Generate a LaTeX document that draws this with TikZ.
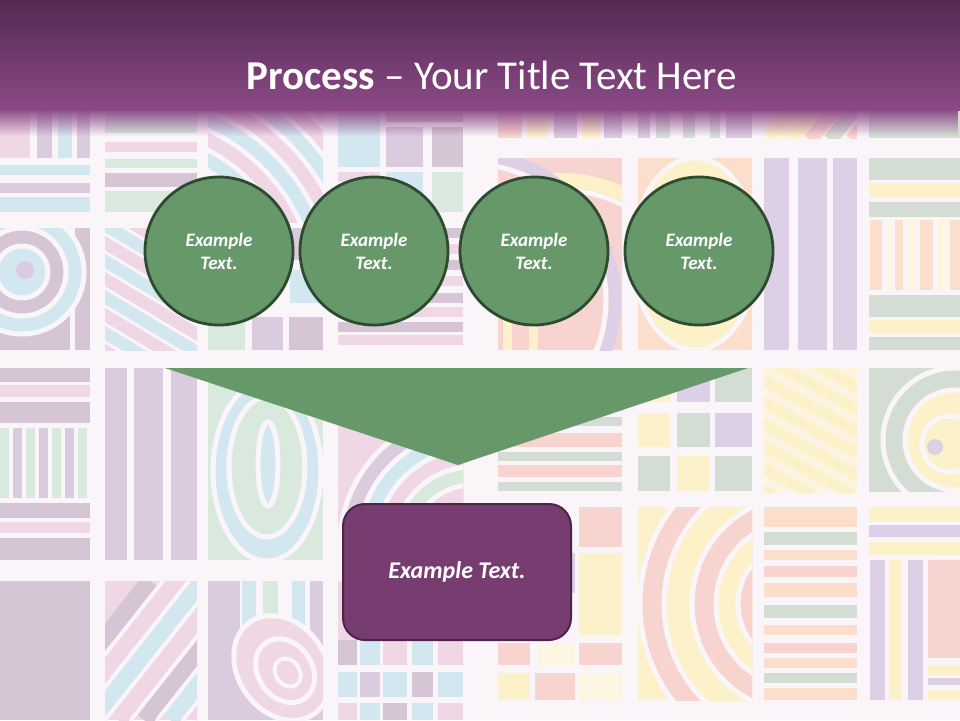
\documentclass[tikz,border=0pt]{standalone}
\usepackage{fontspec}
\setmainfont{Carlito}
\usetikzlibrary{fadings}
\definecolor{bgc}{HTML}{F9F5F9}
\definecolor{pk}{HTML}{F0D7E5}
\definecolor{bl}{HTML}{D3E7F0}
\definecolor{mv}{HTML}{DACBDF}
\definecolor{gm}{HTML}{D6C5D5}
\definecolor{gr}{HTML}{D9E9DE}
\definecolor{yl}{HTML}{FCF1C8}
\definecolor{pc}{HTML}{FBDECB}
\definecolor{sl}{HTML}{F7D4CF}
\definecolor{gg}{HTML}{D4DDD4}
\definecolor{lv}{HTML}{DCCFE6}
\definecolor{cr}{HTML}{FCF5E2}
\definecolor{hdrtop}{HTML}{542950}
\definecolor{hdrbot}{HTML}{8B4A87}
\definecolor{gfill}{HTML}{66986A}
\definecolor{gline}{HTML}{2D4B30}
\definecolor{pfill}{HTML}{773D70}
\definecolor{pline}{HTML}{4E2548}
\newcommand\tl[5]{\fill[#1] (#2,#3) rectangle (#4,#5);}
\begin{document}
\begin{tikzpicture}[x=1pt,y=-1pt,
  stepcircle/.style={circle,draw=gline,fill=gfill,line width=2.8pt,minimum size=148pt,inner sep=0pt,
    text=white,align=center,font=\fontsize{19}{23}\selectfont\bfseries\itshape},
  resultbox/.style={rectangle,rounded corners=22pt,draw=pline,fill=pfill,line width=2pt,
    minimum width=228pt,minimum height=136pt,text=white,font=\fontsize{24}{28}\selectfont\bfseries\itshape},
  ring/.style={draw=bgc,line width=5pt}]
\useasboundingbox (0,0) rectangle (960,720);
\fill[bgc] (0,0) rectangle (960,720);
% ===== upper-left tiles =====
\tl{pk}{0}{110}{30}{158}\tl{mv}{37}{110}{52}{158}\tl{bl}{58}{110}{72}{158}\tl{mv}{77}{110}{90}{158}
\tl{bl}{0}{165}{90}{175}\tl{mv}{0}{183}{90}{193}\tl{bl}{0}{197}{90}{212}
\tl{gr}{105}{112}{197}{133}\tl{pk}{105}{142}{197}{152}\tl{gr}{105}{159}{197}{168}
\tl{gm}{105}{173}{197}{187}\tl{gr}{105}{191}{197}{212}
\begin{scope}
\clip (208,110) rectangle (323,222);
\foreach \r/\c in {268/bl,250/pk,232/bl,214/pk,196/bl,178/pk,160/bl}
  {\draw[\c,line width=13pt] (130,300) circle[radius=\r];}
\end{scope}
\tl{mv}{292}{228}{320}{260}\tl{bl}{290}{270}{320}{303}
\tl{gr}{208}{317}{245}{350}\tl{mv}{252}{317}{283}{350}\tl{gm}{289}{317}{323}{350}
\tl{bl}{338}{113}{380}{167}\tl{gm}{386}{113}{463}{122}\tl{mv}{386}{127}{423}{167}\tl{gm}{432}{127}{463}{167}
\tl{pk}{338}{172}{380}{182}\tl{bl}{386}{172}{423}{212}\tl{gr}{432}{172}{463}{212}
\foreach \y/\c in {228/gm,244/pk,260/gm,276/pk,293/gm,307/pk,322/gm,335/pk}
  {\tl{\c}{338}{\y}{463}{\y+10}}
% "9" tile
\begin{scope}
\clip (0,228) rectangle (90,350);
\fill[gm] (0,228) rectangle (90,350);
\draw[ring] (72,228) -- (72,350);
\fill[bl] (22,272) circle[radius=62];\draw[ring] (22,272) circle[radius=62];
\fill[gm] (22,272) circle[radius=44];\draw[ring] (22,272) circle[radius=44];
\fill[bl] (22,272) circle[radius=26];\draw[ring] (22,272) circle[radius=26];
\fill[mv] (25,270) circle[radius=9];
\end{scope}
\begin{scope}
\clip (105,228) rectangle (197,350);
\fill[pk] (105,228) rectangle (197,350);
\foreach \o/\c in {-150/bl,-132/pk,-114/bl,-96/pk,-78/bl,-60/pk,-42/bl,-24/pk,-6/bl,12/pk,30/bl,48/pk,66/bl,84/pk,102/bl,120/pk}
  {\draw[\c,line width=12pt] (100,{228+\o}) -- (210,{294+\o});}
\foreach \o in {-141,-123,...,129}
  {\draw[bgc,line width=3pt] (100,{228+\o}) -- (210,{294+\o});}
\end{scope}
% ===== upper-right tiles =====
\tl{sl}{498}{110}{522}{138}\tl{yl}{527}{110}{548}{138}\tl{mv}{554}{110}{577}{138}\tl{yl}{582}{110}{600}{138}\tl{mv}{604}{110}{622}{138}
\tl{mv}{638}{110}{650}{138}\tl{gg}{656}{110}{670}{138}\tl{gg}{683}{110}{695}{138}\tl{gg}{710}{110}{720}{138}\tl{mv}{726}{110}{752}{138}
\begin{scope}
\clip (764,110) rectangle (857,138);
\fill[cr] (764,110) rectangle (857,138);
\foreach \x/\c in {770/yl,790/yl,810/sl,830/gg,852/sl}
  {\draw[\c,line width=14pt] (\x,140) -- ({\x+26},108);}
\end{scope}
\tl{gg}{869}{110}{960}{138}
\begin{scope}
\clip (498,158) rectangle (622,350);
\fill[sl] (498,158) rectangle (622,350);
\draw[yl,line width=14pt] (560,330) circle[radius=150];
\draw[ring] (560,330) circle[radius=140];
\draw[lv,line width=12pt] (470,300) circle[radius=145];
\draw[ring] (470,300) circle[radius=136];
\tl{yl}{503}{315}{512}{350}\tl{sl}{516}{315}{525}{350}\tl{yl}{529}{315}{538}{350}
\end{scope}
\begin{scope}
\clip (638,158) rectangle (752,350);
\fill[pc] (638,158) rectangle (752,350);
\fill[yl] (695,254) ellipse[x radius=62,y radius=96];
\draw[ring] (695,254) ellipse[x radius=62,y radius=96];
\end{scope}
\tl{lv}{764}{158}{789}{350}\tl{lv}{798}{158}{827}{350}\tl{lv}{833}{158}{857}{350}
\tl{gg}{869}{158}{960}{180}\tl{yl}{869}{183}{960}{198}\tl{gg}{869}{202}{960}{217}
\foreach \a/\b/\c in {870/882/pc,885/892/cr,895/903/pc,908/915/cr,920/933/pc,938/947/cr,950/960/pc}
  {\tl{\c}{\a}{220}{\b}{290}}
\tl{gg}{869}{295}{960}{317}\tl{yl}{869}{320}{960}{333}\tl{gg}{869}{337}{960}{350}
% ===== lower-left tiles =====
\tl{gm}{0}{368}{90}{382}\tl{pk}{0}{385}{90}{397}\tl{gm}{0}{402}{90}{423}
\foreach \x/\c in {0/gr,13/mv,26/gr,39/mv,52/gr,65/mv,78/gr}
  {\tl{\c}{\x}{428}{\x+9}{498}}
\tl{gm}{0}{503}{90}{518}\tl{pk}{0}{522}{90}{533}\tl{gm}{0}{538}{90}{560}
\tl{mv}{105}{368}{127}{560}\tl{mv}{134}{368}{163}{560}\tl{mv}{171}{368}{197}{560}
\begin{scope}
\clip (208,368) rectangle (323,560);
\fill[gr] (208,368) rectangle (323,560);
\fill[bl] (267,471) ellipse[x radius=54,y radius=90];
\draw[ring] (267,471) ellipse[x radius=54,y radius=90];
\fill[gr] (267,467) ellipse[x radius=38,y radius=70];
\draw[ring] (267,467) ellipse[x radius=38,y radius=70];
\fill[bl] (268,464) ellipse[x radius=10,y radius=42];
\draw[ring] (268,464) ellipse[x radius=10,y radius=42];
\end{scope}
\begin{scope}
\clip (338,368) rectangle (463,560);
\fill[pk] (338,368) rectangle (463,560);
\foreach \r/\c in {132/mv,114/bl,96/pk,78/gr,60/pk}{
  \fill[\c] (472,545) circle[radius=\r];
  \draw[ring] (472,545) circle[radius=\r];}
\end{scope}
\tl{gm}{0}{581}{90}{720}
\begin{scope}
\clip (105,581) rectangle (197,720);
\fill[pk] (105,581) rectangle (197,720);
\foreach \o/\c in {0/gm,26/pk,52/bl,78/pk,104/gm,130/bl,156/pk,182/bl,208/pk}
  {\draw[\c,line width=18pt] ({40+\o},720) -- ({150+\o},581);}
\foreach \o in {13,39,...,221}
  {\draw[bgc,line width=4pt] ({40+\o},720) -- ({150+\o},581);}
\end{scope}
\begin{scope}
\clip (208,581) rectangle (323,720);
\fill[mv] (208,581) rectangle (323,720);
\tl{bgc}{240}{581}{323}{650}
\tl{bl}{242}{581}{256}{650}\tl{gr}{263}{581}{278}{650}\tl{bl}{292}{581}{305}{650}\tl{mv}{310}{581}{323}{650}
\fill[pk,rotate around={35:(282,668)}] (282,668) ellipse[x radius=44,y radius=56];
\draw[ring,rotate around={35:(282,668)}] (282,668) ellipse[x radius=44,y radius=56];
\draw[ring,rotate around={35:(282,668)}] (283,672) ellipse[x radius=27,y radius=34];
\draw[bgc,line width=4pt,rotate around={35:(282,668)}] (284,675) ellipse[x radius=12,y radius=15];
\end{scope}
\tl{pk}{338}{581}{463}{640}
\tl{gm}{338}{640}{357}{665}\tl{bl}{360}{640}{380}{665}\tl{pk}{383}{640}{407}{665}\tl{bl}{412}{640}{433}{665}\tl{pk}{438}{640}{463}{665}
\tl{bl}{338}{672}{357}{697}\tl{mv}{360}{672}{380}{697}\tl{bl}{383}{672}{407}{697}\tl{gm}{412}{672}{433}{697}\tl{bl}{438}{672}{463}{697}
\tl{pk}{338}{703}{357}{720}\tl{bl}{360}{703}{380}{720}\tl{gm}{383}{703}{407}{720}\tl{bl}{412}{703}{433}{720}\tl{pk}{438}{703}{463}{720}
% ===== lower-right tiles =====
\foreach \y/\c in {368/gg,385/sl,402/gg,417/gg,452/gg,482/gg}
  {\tl{\c}{498}{\y}{622}{\y+9}}
\tl{sl}{498}{433}{622}{447}\tl{sl}{498}{465}{622}{477}
\tl{yl}{638}{368}{670}{402}\tl{lv}{677}{368}{710}{402}\tl{gg}{715}{368}{752}{402}
\tl{yl}{638}{413}{670}{447}\tl{gg}{677}{413}{710}{447}\tl{lv}{715}{413}{752}{447}
\tl{gg}{638}{456}{670}{491}\tl{yl}{677}{456}{710}{491}\tl{gg}{715}{456}{752}{491}
\begin{scope}
\clip (764,368) rectangle (857,492);
\fill[cr] (764,368) rectangle (857,492);
\foreach \o in {-100,-78,...,120}
  {\draw[yl,line width=11pt] (760,{368+\o}) -- (860,{423+\o});}
\end{scope}
\begin{scope}
\clip (869,368) rectangle (960,492);
\fill[gg] (869,368) rectangle (960,492);
\draw[ring] (955,440) circle[radius=72];
\fill[yl] (955,440) circle[radius=50];\draw[ring] (955,440) circle[radius=50];
\fill[yl] (950,444) circle[radius=28];\draw[ring] (950,444) circle[radius=28];
\fill[lv] (935,447) circle[radius=8];
\end{scope}
\tl{sl}{579}{507}{622}{547}\tl{yl}{579}{553}{622}{635}\tl{lv}{568}{553}{575}{593}
\tl{sl}{498}{643}{530}{665}\tl{cr}{537}{643}{575}{665}\tl{sl}{579}{643}{622}{665}
\tl{yl}{498}{673}{530}{700}\tl{sl}{535}{673}{575}{700}\tl{cr}{579}{673}{622}{700}
\begin{scope}
\clip (638,507) rectangle (752,700);
\fill[yl] (638,507) rectangle (752,700);
\foreach \r/\c in {160/sl,136/yl,108/sl,84/yl,62/sl,40/yl}{
  \fill[\c] (800,604) circle[radius=\r];
  \draw[ring] (800,604) circle[radius=\r];}
\end{scope}
\foreach \a/\b/\c in {507/527/pc,532/545/gg,550/560/pc,566/577/sl,583/597/pc,605/618/gg,625/635/pc,643/653/sl,658/668/pc,673/683/gg,688/700/pc}
  {\tl{\c}{764}{\a}{857}{\b}}
\tl{yl}{869}{507}{960}{522}\tl{lv}{869}{525}{960}{537}\tl{yl}{869}{542}{960}{555}
\tl{lv}{870}{560}{885}{700}\tl{yl}{889}{560}{902}{700}\tl{lv}{908}{560}{923}{700}
\tl{sl}{928}{560}{960}{658}\tl{yl}{928}{665}{960}{675}\tl{lv}{928}{678}{960}{685}\tl{yl}{928}{690}{960}{700}
% ===== header =====
\shade[top color=hdrtop,bottom color=hdrbot] (0,0) rectangle (960,110);
\fill[hdrbot,path fading=south] (0,109) rectangle (960,136);
\node[text=white,font=\fontsize{41}{48}\selectfont] (title) at (492,75) {\textbf{Process} – Your Title Text Here};
% ===== diagram =====
\fill[gfill] (165,368) -- (748,368) -- (458,465) -- cycle;
\node[stepcircle] (c1) at (219,251) {Example\\Text.};
\node[stepcircle] (c2) at (374,251) {Example\\Text.};
\node[stepcircle] (c3) at (534,251) {Example\\Text.};
\node[stepcircle] (c4) at (699,251) {Example\\Text.};
\node[resultbox] (box) at (457,572) {Example Text.};
\end{tikzpicture}
\end{document}
